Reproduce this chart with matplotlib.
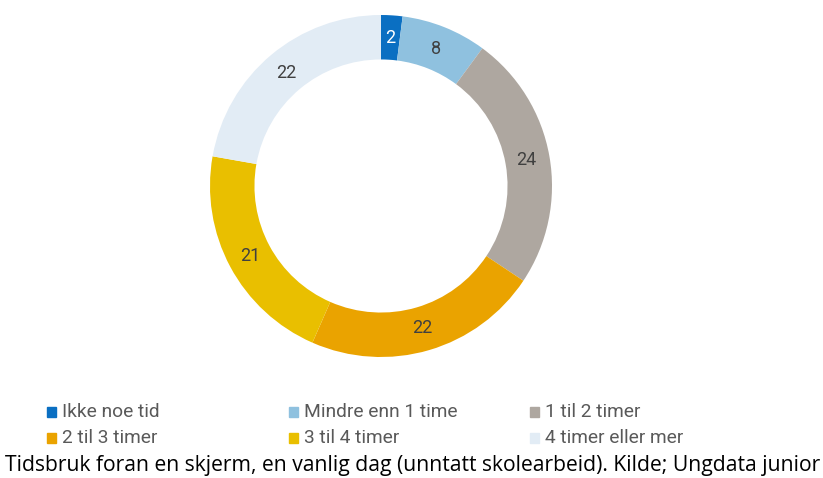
import matplotlib.pyplot as plt
from matplotlib.patches import Rectangle

categories = ["Ikke noe tid", "Mindre enn 1 time", "1 til 2 timer",
              "2 til 3 timer", "3 til 4 timer", "4 timer eller mer"]
values = [2, 8, 24, 22, 21, 22]
colors = ["#0a6fc2", "#8fc1df", "#aea7a0", "#eaa300", "#e9bf00", "#e2ecf5"]
label_colors = ["white", "#404040", "#404040", "#404040", "#404040", "#404040"]

W, H = 823, 478
fig = plt.figure(figsize=(W / 100, H / 100), dpi=100)

# donut: centre (381, 186), outer radius 171 px
cx, cy, r = 381, 186, 171
ax = fig.add_axes([(cx - r) / W, (H - cy - r) / H, 2 * r / W, 2 * r / H])
wedges, texts = ax.pie(values, colors=colors, startangle=90, counterclock=False,
                       radius=1, labels=[str(v) for v in values],
                       labeldistance=0.865,
                       wedgeprops=dict(width=0.26, linewidth=0))
for t, c in zip(texts, label_colors):
    t.set_color(c)
    t.set_fontsize(13)
    t.set_family("Roboto")
    t.set_ha("center")
    t.set_va("center")
ax.set_xlim(-1, 1)
ax.set_ylim(-1, 1)
ax.set_aspect("equal")
ax.axis("off")

# legend in three columns, row by row
col_x = [47, 289, 530]
row_y = [412, 438]
for i, (name, c) in enumerate(zip(categories, colors)):
    x = col_x[i % 3]
    y = row_y[i // 3]
    fig.patches.append(Rectangle((x / W, (H - y - 5) / H), 9 / W, 10 / H,
                                 transform=fig.transFigure, color=c))
    fig.text((x + 15) / W, (H - y) / H, name, fontsize=13.8, color="#595959",
             family="Roboto", va="center", ha="left")

fig.text(5 / W, (H - 465) / H,
         "Tidsbruk foran en skjerm, en vanlig dag (unntatt skolearbeid). Kilde; Ungdata junior",
         fontsize=15.2, color="black", family="Open Sans", va="center", ha="left")

fig.savefig("out.png", dpi=100, facecolor="white")
